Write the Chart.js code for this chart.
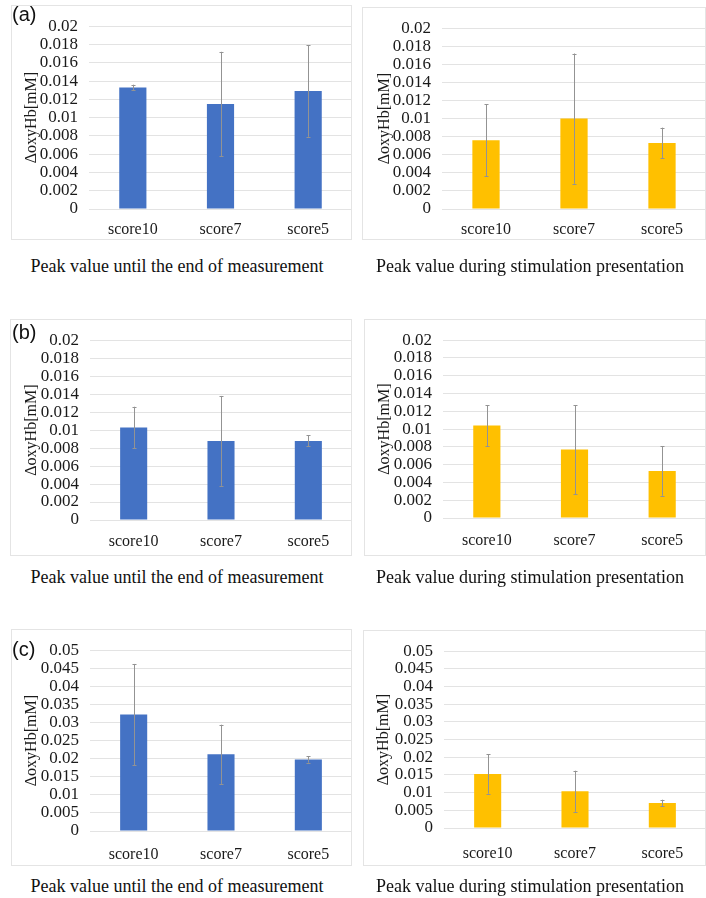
<!DOCTYPE html>
<html>
<head>
<meta charset="utf-8">
<script src="https://cdn.jsdelivr.net/npm/chart.js@4.4.1/dist/chart.umd.min.js"></script>
<style>
  html, body { margin: 0; padding: 0; background: #ffffff; }
  body { width: 706px; height: 898px; position: relative; overflow: hidden; }
  .box { position: absolute; border: 1px solid #e4e4e4; box-sizing: border-box; pointer-events: none; }
  canvas.panel { position: absolute; }
  .cap { position: absolute; font-family: "Liberation Serif", "Times New Roman", serif; font-size: 18px; color: #111; white-space: nowrap; transform: translate(-50%, -50%); }
  .tag { position: absolute; font-family: "Liberation Sans", Arial, sans-serif; font-size: 20px; color: #111; line-height: 1; transform: translateY(-50%); }
</style>
</head>
<body>
<script>
// Categories and measured values (mean and error half-width, in mM)
const categories = ['score10', 'score7', 'score5'];

const aEndMean  = [0.0133, 0.0115, 0.0129];
const aEndErr   = [0.0003, 0.0057, 0.0050];
const aStimMean = [0.0076, 0.0100, 0.0073];
const aStimErr  = [0.0040, 0.0072, 0.0017];

const bEndMean  = [0.0103, 0.0088, 0.0088];
const bEndErr   = [0.0023, 0.0050, 0.0006];
const bStimMean = [0.0104, 0.0077, 0.0053];
const bStimErr  = [0.0023, 0.0050, 0.0028];

const cEndMean  = [0.0322, 0.0212, 0.0198];
const cEndErr   = [0.0140, 0.0082, 0.0009];
const cStimMean = [0.0153, 0.0104, 0.0071];
const cStimErr  = [0.0056, 0.0058, 0.0009];

// Y-axis tick values
const yTicksSmall = [0, 0.002, 0.004, 0.006, 0.008, 0.01, 0.012, 0.014, 0.016, 0.018, 0.02];
const yTicksLarge = [0, 0.005, 0.01, 0.015, 0.02, 0.025, 0.03, 0.035, 0.04, 0.045, 0.05];

const captionEnd  = 'Peak value until the end of measurement';
const captionStim = 'Peak value during stimulation presentation';
const yTitle = '\u0394oxyHb[mM]';

const BLUE = '#4472C4';
const GOLD = '#FFC000';
const SERIF = '"Liberation Serif", "Times New Roman", serif';

Chart.defaults.font.family = SERIF;

// Vertical error bars with small caps, drawn from the dataset's error array
const errorBars = {
  id: 'errorBars',
  afterDatasetsDraw(chart) {
    const ctx = chart.ctx;
    const y = chart.scales.y;
    chart.data.datasets.forEach((ds, di) => {
      const meta = chart.getDatasetMeta(di);
      meta.data.forEach((bar, i) => {
        const v = ds.data[i], e = ds.errors[i];
        const top = y.getPixelForValue(v + e);
        const bot = y.getPixelForValue(v - e);
        const x = Math.round(bar.x) + 0.5;
        ctx.save();
        ctx.strokeStyle = '#939393';
        ctx.lineWidth = 1;
        ctx.beginPath();
        ctx.moveTo(x, top); ctx.lineTo(x, bot);
        ctx.moveTo(x - 2, Math.round(top) + 0.5); ctx.lineTo(x + 2, Math.round(top) + 0.5);
        ctx.moveTo(x - 2, Math.round(bot) + 0.5); ctx.lineTo(x + 2, Math.round(bot) + 0.5);
        ctx.stroke();
        ctx.restore();
      });
    });
  }
};

// Panel layout: frame box and plot-area edges in page pixels
const panels = [
  { box: [11, 5, 352, 240],   area: [89, 19, 352, 209],   mean: aEndMean,  err: aEndErr,  color: BLUE, ticks: yTicksSmall, max: 0.02, titleX: 32, tag: '(a)', tagY: 14, xPad: 11 },
  { box: [362, 7, 706, 240],  area: [442, 21, 706, 209],  mean: aStimMean, err: aStimErr, color: GOLD, ticks: yTicksSmall, max: 0.02, titleX: 385, xPad: 11 },
  { box: [10, 319, 352, 556], area: [90, 332, 352, 520],  mean: bEndMean,  err: bEndErr,  color: BLUE, ticks: yTicksSmall, max: 0.02, titleX: 32, tag: '(b)', tagY: 332, xPad: 12 },
  { box: [364, 319, 706, 556],area: [443, 332, 706, 518], mean: bStimMean, err: bStimErr, color: GOLD, ticks: yTicksSmall, max: 0.02, titleX: 385, xPad: 13 },
  { box: [11, 629, 352, 866], area: [90, 640, 352, 831],  mean: cEndMean,  err: cEndErr,  color: BLUE, ticks: yTicksLarge, max: 0.05, titleX: 32, tag: '(c)', tagY: 649, xPad: 14 },
  { box: [363, 630, 706, 866],area: [444, 641, 706, 828], mean: cStimMean, err: cStimErr, color: GOLD, ticks: yTicksLarge, max: 0.05, titleX: 384, xPad: 16 }
];

const captions = [
  { text: captionEnd,  x: 177, y: 266 }, { text: captionStim, x: 530, y: 266 },
  { text: captionEnd,  x: 177, y: 577 }, { text: captionStim, x: 530, y: 577 },
  { text: captionEnd,  x: 177, y: 886 }, { text: captionStim, x: 530, y: 886 }
];

panels.forEach(p => {
  const [bl, bt, br, bb] = p.box;
  const [al, at, ar, ab] = p.area;
  const w = br - bl, h = bb - bt;

  const cv = document.createElement('canvas');
  cv.className = 'panel';
  cv.width = w; cv.height = h;
  cv.style.left = bl + 'px'; cv.style.top = bt + 'px';
  cv.style.width = w + 'px'; cv.style.height = h + 'px';
  document.body.appendChild(cv);

  const frame = document.createElement('div');
  frame.className = 'box';
  frame.style.left = bl + 'px'; frame.style.top = bt + 'px';
  frame.style.width = w + 'px'; frame.style.height = h + 'px';
  document.body.appendChild(frame);

  if (p.tag) {
    const t = document.createElement('div');
    t.className = 'tag';
    t.textContent = p.tag;
    t.style.left = '12px'; t.style.top = p.tagY + 'px';
    document.body.appendChild(t);
  }

  const yAxisWidth = al - bl;
  const xAxisHeight = bb - ab;
  const titlePad = p.titleX - bl - 10;

  new Chart(cv.getContext('2d'), {
    type: 'bar',
    data: {
      labels: categories,
      datasets: [{
        data: p.mean,
        errors: p.err,
        backgroundColor: p.color,
        borderWidth: 0,
        barPercentage: 0.31,
        categoryPercentage: 1.0
      }]
    },
    options: {
      responsive: false,
      animation: false,
      devicePixelRatio: 1,
      layout: { padding: { top: at - bt, right: br - ar, left: 0, bottom: 0 } },
      plugins: { legend: { display: false }, tooltip: { enabled: false } },
      scales: {
        x: {
          grid: { display: false, drawTicks: false },
          border: { display: false },
          ticks: { color: '#1a1a1a', font: { family: SERIF, size: 16 }, padding: p.xPad, maxRotation: 0, autoSkip: false },
          afterFit: s => { s.height = xAxisHeight; }
        },
        y: {
          min: 0, max: p.max,
          grid: { color: '#e3e3e3', lineWidth: 1, drawTicks: false },
          border: { display: false },
          afterBuildTicks: s => { s.ticks = p.ticks.map(v => ({ value: v })); },
          ticks: { color: '#1a1a1a', font: { family: SERIF, size: 17 }, padding: 11, autoSkip: false, callback: v => String(v) },
          title: { display: true, text: yTitle, color: '#1a1a1a', font: { family: SERIF, size: 16, lineHeight: 1.2 }, padding: { top: titlePad, bottom: 0 } },
          afterFit: s => { s.width = yAxisWidth; }
        }
      }
    },
    plugins: [errorBars]
  });
});

captions.forEach(c => {
  const d = document.createElement('div');
  d.className = 'cap';
  d.textContent = c.text;
  d.style.left = c.x + 'px'; d.style.top = c.y + 'px';
  document.body.appendChild(d);
});
</script>
</body>
</html>
